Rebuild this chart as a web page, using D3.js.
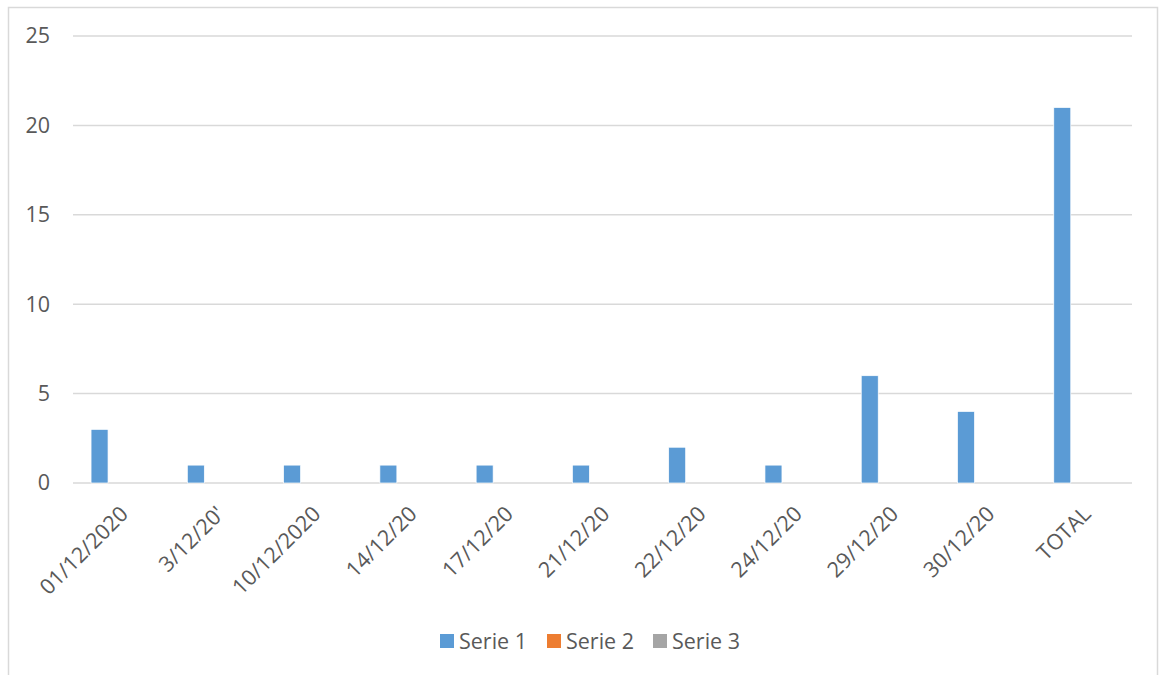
<!DOCTYPE html>
<html>
<head>
<meta charset="utf-8">
<script src="https://cdn.jsdelivr.net/npm/d3@7"></script>
<style>
  html, body { margin: 0; padding: 0; background: #fff; }
  svg { display: block; }
  text { font-family: "Open Sans", "Noto Sans", sans-serif; fill: #595959; }
</style>
</head>
<body>
<svg id="chart" width="1160" height="675"></svg>
<script>
// Categories along the x axis
const categories = ['01/12/2020', '3/12/20\'', '10/12/2020', '14/12/20', '17/12/20',
  '21/12/20', '22/12/20', '24/12/20', '29/12/20', '30/12/20', 'TOTAL'];

// Series values (Serie 2 and 3 are empty in the reference)
const serie1 = [3, 1, 1, 1, 1, 1, 2, 1, 6, 4, 21];
const serie2 = [0, 0, 0, 0, 0, 0, 0, 0, 0, 0, 0];
const serie3 = [0, 0, 0, 0, 0, 0, 0, 0, 0, 0, 0];

const seriesNames = ['Serie 1', 'Serie 2', 'Serie 3'];
const seriesColors = ['#5B9BD5', '#ED7D31', '#A5A5A5'];
const yTicks = [0, 5, 10, 15, 20, 25];

const fontSize = '21.5px';
const svg = d3.select('#chart');

// Chart frame
svg.append('rect')
  .attr('x', 8.5).attr('y', 7.5)
  .attr('width', 1149).attr('height', 680)
  .attr('fill', '#fff')
  .attr('stroke', '#D9D9D9')
  .attr('stroke-width', 1.5);

const margin = { left: 73, right: 1132, top: 36, bottom: 483 };

const x0 = d3.scaleBand()
  .domain(categories)
  .range([margin.left, margin.right])
  .padding(0);

// Bars in a group: width ~0.177 of band, step ~0.224 of band
const groupHalf = x0.bandwidth() * 0.3125;
const x1 = d3.scaleBand()
  .domain(seriesNames)
  .range([-groupHalf, groupHalf])
  .paddingInner(0.213);

const y = d3.scaleLinear()
  .domain([0, 25])
  .range([margin.bottom, margin.top]);

// Gridlines
svg.append('g')
  .attr('class', 'grid')
  .selectAll('line')
  .data(yTicks)
  .join('line')
  .attr('x1', margin.left)
  .attr('x2', margin.right)
  .attr('y1', d => y(d))
  .attr('y2', d => y(d))
  .attr('stroke', '#D9D9D9')
  .attr('stroke-width', 1.5);

// Y axis labels
const yAxis = d3.axisLeft(y).tickValues(yTicks).tickSize(0).tickPadding(0);
svg.append('g')
  .attr('transform', 'translate(50,0)')
  .call(yAxis)
  .call(g => g.select('.domain').remove())
  .selectAll('text')
  .style('font-size', fontSize)
  .style('font-family', '"Open Sans", sans-serif')
  .attr('fill', '#595959');

// Bars
const table = categories.map((c, i) => ({
  category: c,
  values: [serie1[i], serie2[i], serie3[i]]
}));

const groups = svg.append('g')
  .attr('class', 'bars')
  .selectAll('g')
  .data(table)
  .join('g')
  .attr('transform', d => `translate(${x0(d.category) + x0.bandwidth() / 2},0)`);

groups.selectAll('rect')
  .data(d => d.values.map((v, k) => ({ name: seriesNames[k], value: v, color: seriesColors[k] })))
  .join('rect')
  .filter(d => d.value > 0)
  .attr('x', d => x1(d.name))
  .attr('width', x1.bandwidth())
  .attr('y', d => y(d.value))
  .attr('height', d => y(0) - y(d.value))
  .attr('fill', d => d.color)
  .attr('stroke', '#fff')
  .attr('stroke-width', 0.7);

// X axis labels, rotated
svg.append('g')
  .attr('class', 'x-labels')
  .selectAll('text')
  .data(categories)
  .join('text')
  .attr('transform', d => `translate(${x0(d) + x0.bandwidth() / 2 + 3},${margin.bottom + 27}) rotate(-45)`)
  .attr('text-anchor', 'end')
  .attr('dy', '0.35em')
  .style('font-size', fontSize)
  .text(d => d);

// Legend
const legendX = [440, 547, 653];
const legend = svg.append('g')
  .attr('class', 'legend')
  .selectAll('g')
  .data(seriesNames)
  .join('g')
  .attr('transform', (d, i) => `translate(${legendX[i]},634)`);

legend.append('rect')
  .attr('width', 14)
  .attr('height', 14)
  .attr('fill', (d, i) => seriesColors[i]);

legend.append('text')
  .attr('x', 19)
  .attr('y', 7)
  .attr('dy', '0.35em')
  .style('font-size', fontSize)
  .text(d => d);
</script>
</body>
</html>
